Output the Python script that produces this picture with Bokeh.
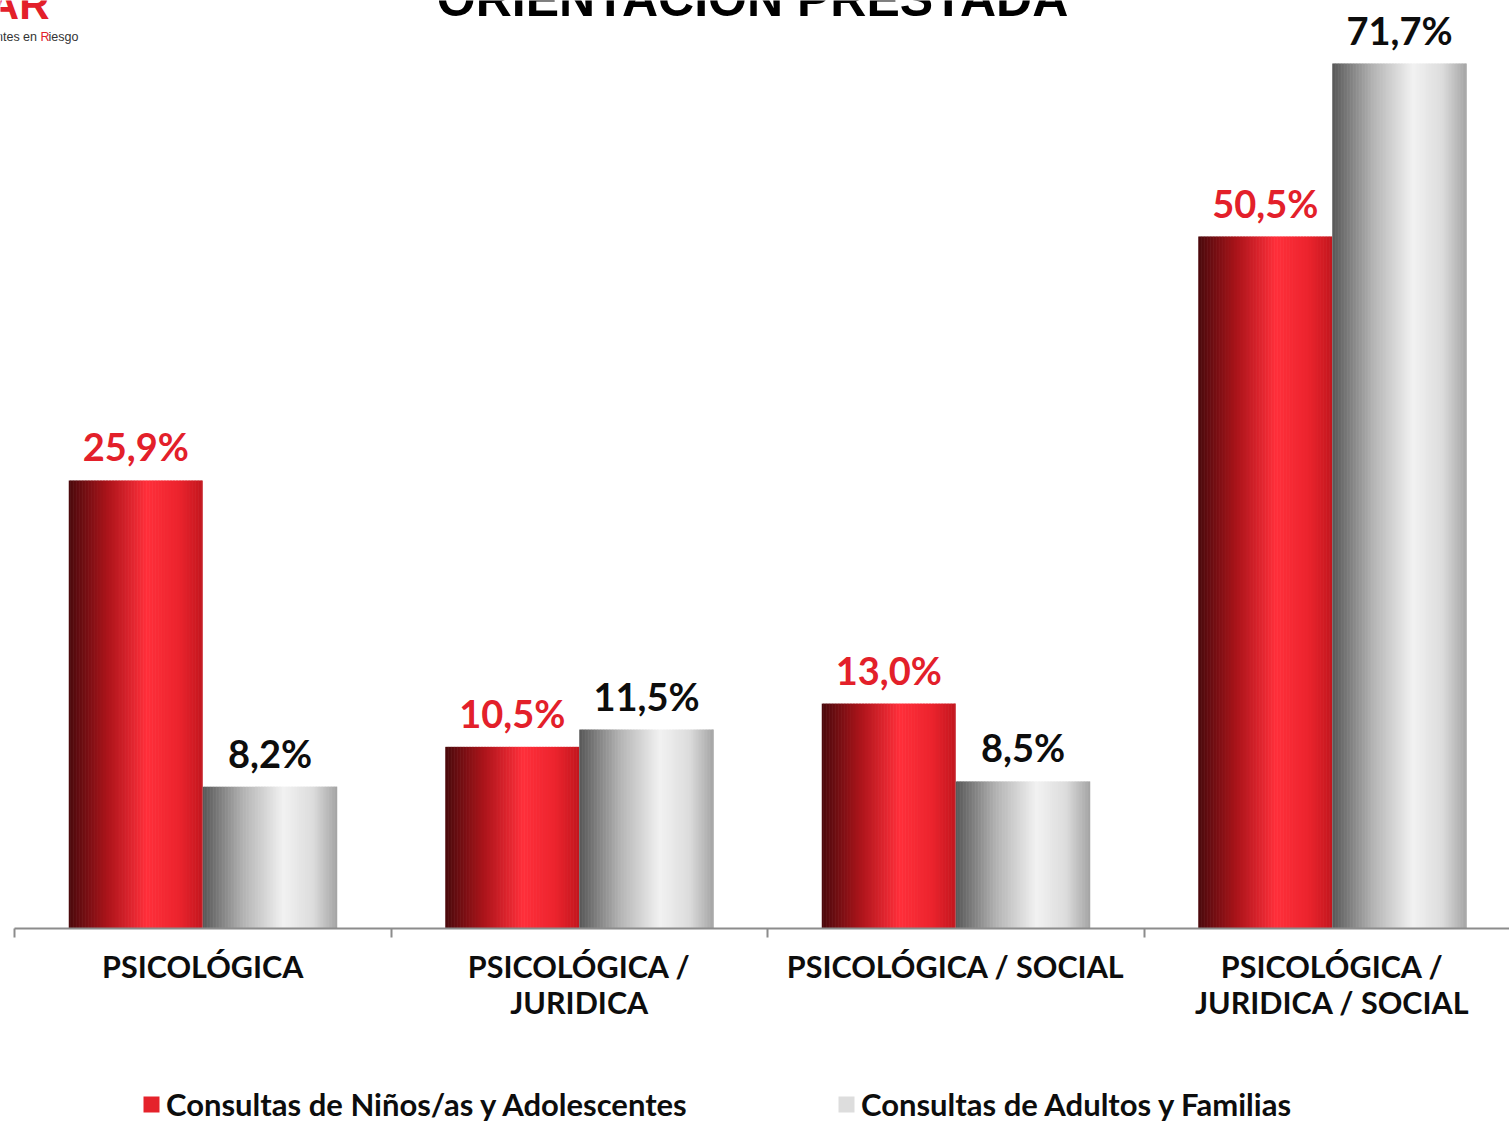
import numpy as np
from bokeh.plotting import figure
from bokeh.models import Range1d, FixedTicker, Legend, LegendItem, ColumnDataSource
from bokeh.core.properties import value
from bokeh.embed import file_html
from bokeh.resources import INLINE

# ---------------- data ----------------
categories = ["PSICOLÓGICA", "PSICOLÓGICA /\nJURIDICA", "PSICOLÓGICA / SOCIAL",
              "PSICOLÓGICA /\nJURIDICA / SOCIAL"]
series_names = ["Consultas de Niños/as y Adolescentes", "Consultas de Adultos y Familias"]
# bar heights as drawn in the picture
ninos_heights = [25.9, 10.5, 13.0, 40.0]
adultos_heights = [8.2, 11.5, 8.5, 50.0]
# printed labels
ninos_labels = ["25,9%", "10,5%", "13,0%", "50,5%"]
adultos_labels = ["8,2%", "11,5%", "8,5%", "71,7%"]
title_text = "ORIENTACIÓN PRESTADA"

# ---------------- geometry ----------------
W, H, BASE = 1509, 1123, 928
PX_PER_UNIT = 17.3
CAT_PX = 376.5
X0_PX = 14.0
x_start = -X0_PX / CAT_PX
x_end = (W - X0_PX) / CAT_PX
y_end = BASE / PX_PER_UNIT
y_start = -(H - BASE) / PX_PER_UNIT
RED_W = 134 / CAT_PX
GRAY_W = 134.5 / CAT_PX


def px_x(px):
    return (px - X0_PX) / CAT_PX


def px_y(py):
    return (BASE - py) / PX_PER_UNIT


FONT = "Lato"

p = figure(frame_width=W, frame_height=H, output_backend="svg", toolbar_location=None,
           x_range=Range1d(x_start, x_end), y_range=Range1d(y_start, y_end),
           y_axis_location=None, min_border_left=0, min_border_right=0,
           min_border_top=0, min_border_bottom=0)
p.outline_line_color = None
p.xgrid.visible = False
p.ygrid.visible = False
p.background_fill_color = "white"
p.border_fill_color = "white"


def interp_colors(stops, n):
    pos = np.array([s[0] for s in stops])
    rgb = np.array([[int(s[1][i:i + 2], 16) for i in (1, 3, 5)] for s in stops], dtype=float)
    t = (np.arange(n) + 0.5) / n
    out = []
    for tt in t:
        c = [np.interp(tt, pos, rgb[:, j]) for j in range(3)]
        out.append("#%02x%02x%02x" % tuple(int(round(v)) for v in c))
    return out


red_stops = [(0.0, "#4a090c"), (0.28, "#a9141a"), (0.58, "#ff2f3a"),
             (0.82, "#ec242e"), (1.0, "#c2161d")]
gray_stops = [(0.0, "#575757"), (0.3, "#b3b3b3"), (0.6, "#f2f2f2"),
              (0.82, "#dcdcdc"), (1.0, "#a3a3a3")]
N = 90
red_cols = interp_colors(red_stops, N)
gray_cols = interp_colors(gray_stops, N)


def strips(heights, offset_sign, width, cols):
    L, R, T, B, C = [], [], [], [], []
    for k in range(len(categories)):
        centre = k + 0.5
        left0 = centre - width if offset_sign < 0 else centre
        step = width / N
        for i in range(N):
            L.append(left0 + i * step)
            R.append(min(left0 + (i + 1) * step + 0.6 / CAT_PX, left0 + width))
            T.append(heights[k])
            B.append(0)
            C.append(cols[i])
    return ColumnDataSource(dict(left=L, right=R, top=T, bottom=B, color=C))


r_red = p.quad(source=strips(ninos_heights, -1, RED_W, red_cols),
               left="left", right="right", top="top", bottom="bottom",
               fill_color="color", line_color=None)
r_gray = p.quad(source=strips(adultos_heights, 1, GRAY_W, gray_cols),
                left="left", right="right", top="top", bottom="bottom",
                fill_color="color", line_color=None)

# value labels (centre of text 34 px above bar top)
lab_off = 34 / PX_PER_UNIT
nx = [k + 0.5 - RED_W / 2 for k in range(len(categories))]
ax = [k + 0.5 + GRAY_W / 2 for k in range(len(categories))]
p.text(x=nx, y=[h + lab_off for h in ninos_heights], text=ninos_labels,
       text_align="center", text_baseline="middle", text_font=value(FONT),
       text_font_style="bold", text_font_size="38px", text_color="#e3202a")
p.text(x=ax, y=[h + lab_off for h in adultos_heights], text=adultos_labels,
       text_align="center", text_baseline="middle", text_font=value(FONT),
       text_font_style="bold", text_font_size="38px", text_color="#0d0d0d")

# title (cut off at top)
p.text(x=[px_x(752)], y=[px_y(-2)], text=[title_text],
       text_align="center", text_baseline="middle", text_font=value("Liberation Sans"),
       text_font_style="bold", text_font_size="50px", text_color="black")

# logo fragments (cut off at the left)
p.text(x=[px_x(49)], y=[px_y(4)], text=["AR"],
       text_align="right", text_baseline="middle", text_font=value("Liberation Sans"),
       text_font_style="bold", text_font_size="42px", text_color="#e3202a")
p.text(x=[px_x(40)], y=[px_y(36)], text=["Adolescentes en "],
       text_align="right", text_baseline="middle", text_font=value("Liberation Sans"),
       text_font_size="12.5px", text_color="#333333")
p.text(x=[px_x(40)], y=[px_y(36)], text=["R"],
       text_align="left", text_baseline="middle", text_font=value("Liberation Sans"),
       text_font_size="12.5px", text_color="#e3202a")
p.text(x=[px_x(48)], y=[px_y(36)], text=["iesgo"],
       text_align="left", text_baseline="middle", text_font=value("Liberation Sans"),
       text_font_size="12.5px", text_color="#333333")

# x axis, drawn at the baseline (y = 0)
xa = p.xaxis[0]
xa.fixed_location = 0
xa.ticker = FixedTicker(ticks=[k + 0.5 for k in range(len(categories))],
                        minor_ticks=list(range(len(categories) + 1)))
xa.major_label_overrides = {k + 0.5: c for k, c in enumerate(categories)}
xa.bounds = (0, len(categories))
xa.axis_line_color = "#8c8c8c"
xa.axis_line_width = 2
xa.major_tick_line_color = None
xa.major_tick_out = 0
xa.major_tick_in = 0
xa.minor_tick_line_color = "#8c8c8c"
xa.minor_tick_line_width = 2
xa.minor_tick_out = 9
xa.minor_tick_in = 0
xa.major_label_standoff = 10
xa.major_label_text_font = FONT
xa.major_label_text_font_style = "bold"
xa.major_label_text_font_size = "30.5px"
xa.major_label_text_line_height = 1.0
xa.major_label_text_color = "#0d0d0d"

# legends: use the bar renderers, picking a strip whose colour matches the swatch
red_idx = int(0.85 * N)
gray_idx = int(0.80 * N)
for item, lx in ((LegendItem(label=series_names[0], renderers=[r_red], index=red_idx), 141),
                 (LegendItem(label=series_names[1], renderers=[r_gray], index=gray_idx), 836)):
    leg = Legend(items=[item], orientation="horizontal", glyph_width=20, glyph_height=20,
                 label_standoff=5, padding=0, margin=0,
                 label_text_font=FONT, label_text_font_style="bold",
                 label_text_font_size="31px", label_text_color="#0d0d0d",
                 background_fill_alpha=0, border_line_color=None,
                 location=(lx, 0))
    p.add_layout(leg, "center")

open("out.html", "w").write(file_html(p, INLINE))
